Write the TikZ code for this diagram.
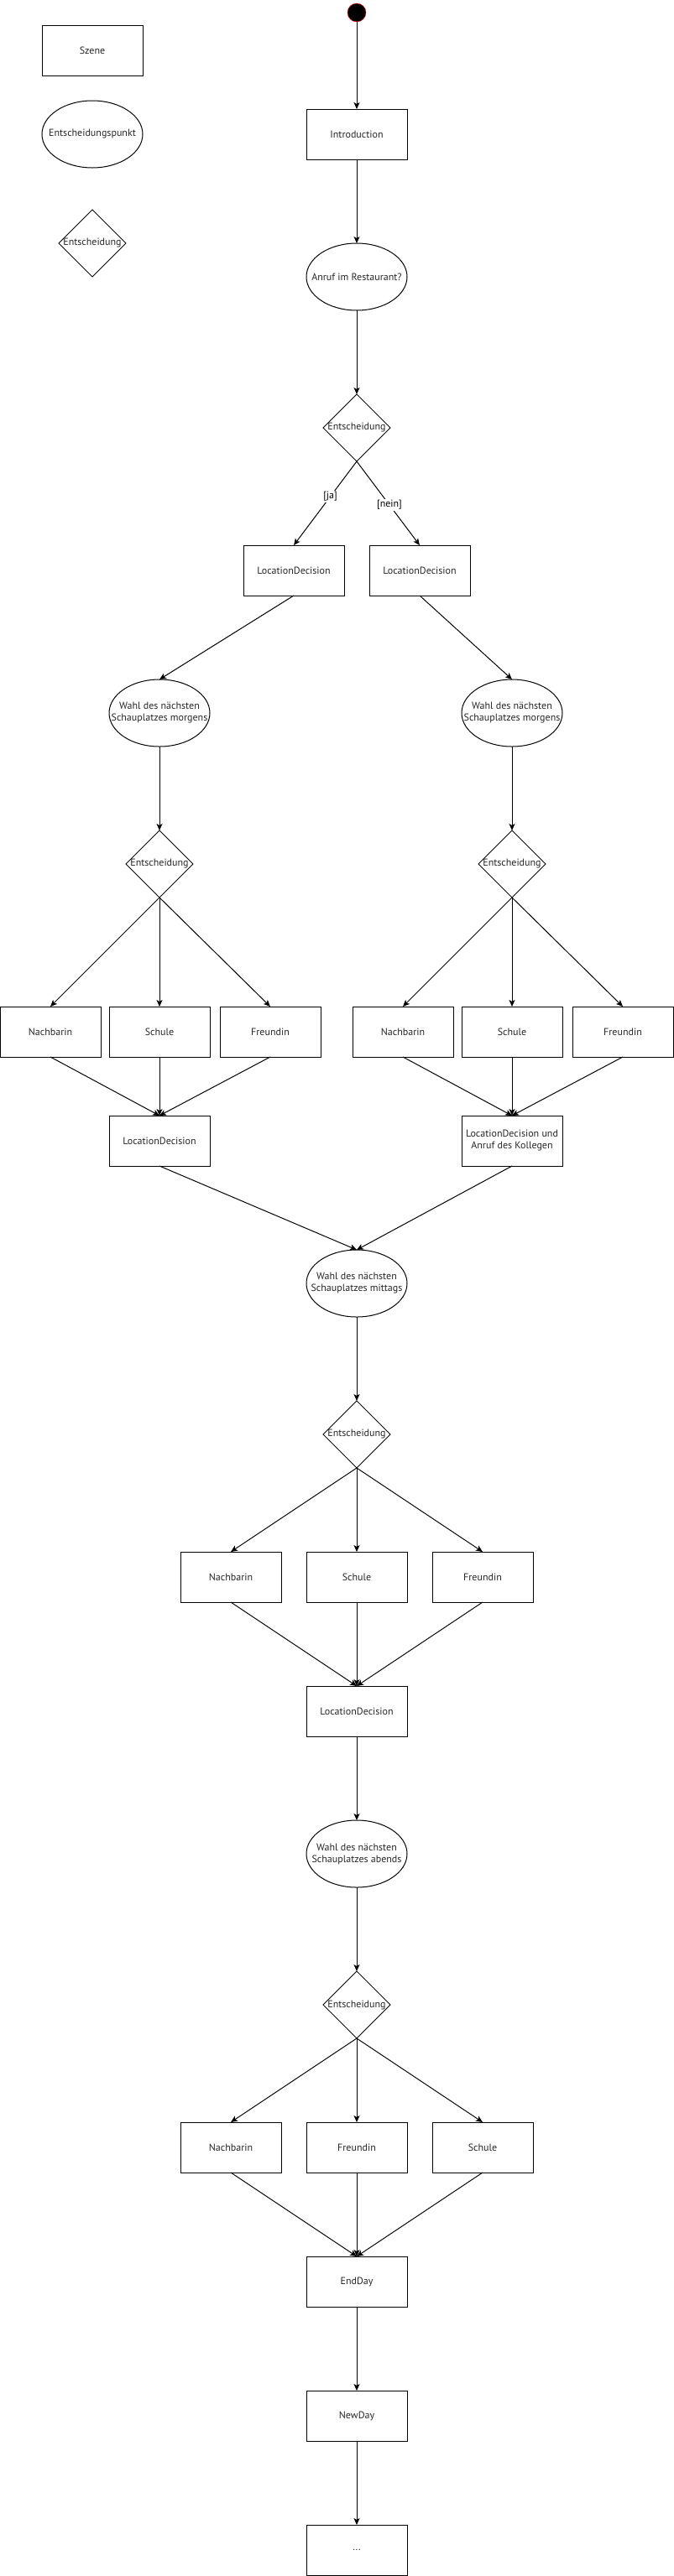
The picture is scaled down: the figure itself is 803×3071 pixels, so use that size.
\documentclass[tikz,border=0pt]{standalone}
\usepackage{fontspec}
\setmainfont{PT Sans}
\usetikzlibrary{arrows.meta, positioning, shapes.geometric}

\begin{document}
\begin{tikzpicture}[
    % Globale Stile
    >={Stealth[length=8pt, width=7pt, inset=2pt]},
    font=\fontsize{12}{14}\selectfont,
    % Szene (Rechteck)
    szene/.style = {
        rectangle,
        draw,
        line width=1pt,
        minimum width=120pt,
        minimum height=60pt,
        inner sep=0pt,
        outer sep=0pt,
        align=center,
        text=black!85
    },
    % Entscheidungspunkt (Ellipse)
    punkt/.style = {
        ellipse,
        draw,
        line width=1pt,
        minimum width=120pt,
        minimum height=80pt,
        inner xsep=-16pt,
        inner ysep=0pt,
        outer sep=0pt,
        align=center,
        text=black!85
    },
    % Entscheidung (Raute)
    entscheidung/.style = {
        diamond,
        draw,
        line width=1pt,
        minimum width=80pt,
        minimum height=80pt,
        inner xsep=-2pt,
        inner ysep=0pt,
        outer sep=0pt,
        text=black!85
    },
    % Startzustand
    anfang/.style = {circle, draw=red, fill=black, minimum size=22pt, inner sep=0pt, outer sep=0pt},
    % Beschriftung der Kanten
    guard/.style = {fill=white, inner sep=1pt, text=black},
    % Linien
    connection/.style = {draw, ->, line width=1pt, black}
]

    \useasboundingbox (0,0) rectangle (803pt,-3071pt);

    % --- LEGENDE ---
    \node [szene] (legszene) at (110pt,-60pt) {Szene};
    \node [punkt, below=30pt of legszene] (legpunkt) {Entscheidungspunkt};
    \node [entscheidung, below=50pt of legpunkt] (legentsch) {Entscheidung};

    % --- KNOTEN ---

    % 1. Start und Einleitung
    \node [anfang] (start) at (425pt,-15pt) {};
    \node [szene, below=104pt of start] (intro) {Introduction};
    \node [punkt, below=100pt of intro] (anruf) {Anruf im Restaurant?};
    \node [entscheidung, below=100pt of anruf] (d1) {Entscheidung};

    % 2. Zwei Zweige: ja / nein
    \node [szene, below=100pt of d1, xshift=-75pt] (ldja) {LocationDecision};
    \node [szene, below=100pt of d1, xshift=75pt] (ldnein) {LocationDecision};

    % 3. Morgens (links und rechts)
    \node [punkt, below=100pt of ldja, xshift=-160pt] (wahl1) {Wahl des nächsten\\Schauplatzes morgens};
    \node [punkt, below=100pt of ldnein, xshift=110pt] (wahl2) {Wahl des nächsten\\Schauplatzes morgens};
    \node [entscheidung, below=100pt of wahl1] (d2) {Entscheidung};
    \node [entscheidung, below=100pt of wahl2] (d3) {Entscheidung};

    \node [szene, below=130pt of d2] (schule1) {Schule};
    \node [szene, left=10pt of schule1] (nachbarin1) {Nachbarin};
    \node [szene, right=12pt of schule1] (freundin1) {Freundin};

    \node [szene, below=130pt of d3] (schule2) {Schule};
    \node [szene, left=10pt of schule2] (nachbarin2) {Nachbarin};
    \node [szene, right=12pt of schule2] (freundin2) {Freundin};

    \node [szene, below=70pt of schule1] (ld1) {LocationDecision};
    \node [szene, below=70pt of schule2] (ld2) {LocationDecision und\\Anruf des Kollegen};

    % 4. Mittags (wieder in der Mitte)
    \node [punkt, below=100pt of ld1, xshift=235pt] (wahlmittag) {Wahl des nächsten\\Schauplatzes mittags};
    \node [entscheidung, below=100pt of wahlmittag] (d4) {Entscheidung};
    \node [szene, below=100pt of d4] (schule3) {Schule};
    \node [szene, left=30pt of schule3] (nachbarin3) {Nachbarin};
    \node [szene, right=30pt of schule3] (freundin3) {Freundin};
    \node [szene, below=100pt of schule3] (ld3) {LocationDecision};

    % 5. Abends
    \node [punkt, below=100pt of ld3] (wahlabend) {Wahl des nächsten\\Schauplatzes abends};
    \node [entscheidung, below=100pt of wahlabend] (d5) {Entscheidung};
    \node [szene, below=100pt of d5] (freundin4) {Freundin};
    \node [szene, left=30pt of freundin4] (nachbarin4) {Nachbarin};
    \node [szene, right=30pt of freundin4] (schule4) {Schule};

    % 6. Tagesende
    \node [szene, below=100pt of freundin4] (endday) {EndDay};
    \node [szene, below=100pt of endday] (newday) {NewDay};
    \node [szene, below=100pt of newday] (weiter) {...};

    % --- VERBINDUNGEN ---

    \draw [connection] (start) -- (intro);
    \draw [connection] (intro) -- (anruf);
    \draw [connection] (anruf) -- (d1);

    % ja / nein
    \draw [connection] (d1.south) -- node[guard, pos=0.42] {[ja]} (ldja.north);
    \draw [connection] (d1.south) -- node[guard, pos=0.52] {[nein]} (ldnein.north);

    \draw [connection] (ldja.south) -- (wahl1.north);
    \draw [connection] (ldnein.south) -- (wahl2.north);
    \draw [connection] (wahl1) -- (d2);
    \draw [connection] (wahl2) -- (d3);

    % Morgens links
    \draw [connection] (d2.south) -- (nachbarin1.north);
    \draw [connection] (d2.south) -- (schule1.north);
    \draw [connection] (d2.south) -- (freundin1.north);
    \draw [connection] (nachbarin1.south) -- (ld1.north);
    \draw [connection] (schule1.south) -- (ld1.north);
    \draw [connection] (freundin1.south) -- (ld1.north);

    % Morgens rechts
    \draw [connection] (d3.south) -- (nachbarin2.north);
    \draw [connection] (d3.south) -- (schule2.north);
    \draw [connection] (d3.south) -- (freundin2.north);
    \draw [connection] (nachbarin2.south) -- (ld2.north);
    \draw [connection] (schule2.south) -- (ld2.north);
    \draw [connection] (freundin2.south) -- (ld2.north);

    % Mittags
    \draw [connection] (ld1.south) -- (wahlmittag.north);
    \draw [connection] (ld2.south) -- (wahlmittag.north);
    \draw [connection] (wahlmittag) -- (d4);
    \draw [connection] (d4.south) -- (nachbarin3.north);
    \draw [connection] (d4.south) -- (schule3.north);
    \draw [connection] (d4.south) -- (freundin3.north);
    \draw [connection] (nachbarin3.south) -- (ld3.north);
    \draw [connection] (schule3.south) -- (ld3.north);
    \draw [connection] (freundin3.south) -- (ld3.north);

    % Abends
    \draw [connection] (ld3) -- (wahlabend);
    \draw [connection] (wahlabend) -- (d5);
    \draw [connection] (d5.south) -- (nachbarin4.north);
    \draw [connection] (d5.south) -- (freundin4.north);
    \draw [connection] (d5.south) -- (schule4.north);
    \draw [connection] (nachbarin4.south) -- (endday.north);
    \draw [connection] (freundin4.south) -- (endday.north);
    \draw [connection] (schule4.south) -- (endday.north);

    % Tagesende
    \draw [connection] (endday) -- (newday);
    \draw [connection] (newday) -- (weiter);

\end{tikzpicture}
\end{document}
